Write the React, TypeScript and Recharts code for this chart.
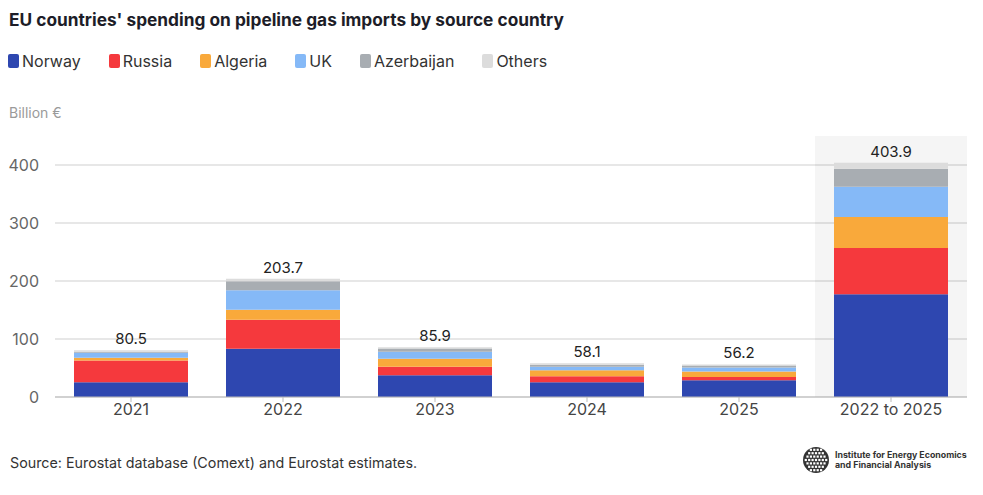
import { BarChart, Bar, XAxis, YAxis, CartesianGrid, ReferenceArea, LabelList } from 'recharts';

const categories = ['2021', '2022', '2023', '2024', '2025', '2022 to 2025'];
const norway = [25.5, 83.1, 37.5, 25.3, 28.7, 177];
const russia = [37.5, 49.9, 14.5, 10.4, 5.8, 80];
const algeria = [4.5, 17.4, 14, 10.5, 9.3, 53.5];
const uk = [9, 33.6, 12.2, 6, 7, 52];
const azerbaijan = [1.5, 15.7, 5.3, 3.5, 3.5, 31];
const others = [2.5, 4, 2.4, 2.4, 1.9, 10.4];
const totals = [80.5, 203.7, 85.9, 58.1, 56.2, 403.9];
const yTicks = [0, 100, 200, 300, 400];

const series = [
    { key: 'Norway', color: '#2e47b0', values: norway },
    { key: 'Russia', color: '#f5393d', values: russia },
    { key: 'Algeria', color: '#f9a93b', values: algeria },
    { key: 'UK', color: '#85b9f7', values: uk },
    { key: 'Azerbaijan', color: '#a8adb2', values: azerbaijan },
    { key: 'Others', color: '#dcdcdc', values: others },
];

const data = categories.map((name, i) => {
    const row: any = { name, total: totals[i] };
    series.forEach((s) => { row[s.key] = s.values[i]; });
    return row;
});

const font = 'Inter, "Noto Sans", sans-serif';

function Globe() {
    // rough sketch of the logo's dotted globe
    const dots: any[] = [];
    for (let r = -3; r <= 3; r++) {
        for (let c = -3; c <= 3; c++) {
            const dx = c * 3.4 + (r % 2 ? 1.7 : 0);
            const dy = r * 3.4;
            if (dx * dx + dy * dy < 150) {
                dots.push(<rect key={r + '_' + c} x={13 + dx - 1.1} y={13 + dy - 1.1} width={2.2} height={2.2} fill="#fff" />);
            }
        }
    }
    return (
        <svg width={26} height={26} style={{ position: 'absolute', left: 803, top: 447 }}>
            <circle cx={13} cy={13} r={13} fill="#333" />
            {dots}
        </svg>
    );
}

function App() {
    return (
        <div style={{ position: 'absolute', left: 0, top: 0, width: 983, height: 495, background: '#fff', fontFamily: font }}>
            <div style={{ position: 'absolute', left: 9, top: 9, fontSize: 17.3, fontWeight: 700, color: '#1d1d28' }}>
                EU countries' spending on pipeline gas imports by source country
            </div>
            <div style={{ position: 'absolute', left: 8, top: 51, display: 'flex', gap: 28, fontSize: 16, color: '#333' }}>
                {series.map((s) => (
                    <div key={s.key} style={{ display: 'flex', alignItems: 'center' }}>
                        <span style={{ display: 'inline-block', width: 11, height: 14, borderRadius: 2, background: s.color, marginRight: 3 }} />
                        <span>{s.key}</span>
                    </div>
                ))}
            </div>
            <div style={{ position: 'absolute', left: 9, top: 104, fontSize: 14, color: '#9a9a9a' }}>Billion €</div>

            <div style={{ position: 'absolute', left: 0, top: 0 }}>
                <BarChart width={983} height={440} data={data} margin={{ top: 136, right: 16, bottom: 13, left: 0 }} barCategoryGap="12.5%">
                    <ReferenceArea x1="2022 to 2025" x2="2022 to 2025" y1={0} y2={450} fill="#000" fillOpacity={0.04} stroke="none" />
                    <CartesianGrid vertical={false} stroke="#cfcfcf" horizontalValues={yTicks} />
                    <XAxis dataKey="name" tick={{ fontSize: 16, fill: '#444', fontFamily: font }} tickLine={{ stroke: '#bbb' }} axisLine={{ stroke: '#bbb' }} tickSize={5} height={30} />
                    <YAxis domain={[0, 450]} ticks={yTicks} width={55} axisLine={false} tickLine={false} tickMargin={10} tick={{ fontSize: 16, fill: '#666', fontFamily: font }} />
                    {series.map((s, i) => (
                        <Bar key={s.key} dataKey={s.key} stackId="a" fill={s.color} isAnimationActive={false}>
                            {i === series.length - 1 ? (
                                <LabelList dataKey="total" position="top" offset={6} style={{ fontSize: 15, fill: '#222', fontFamily: font }} />
                            ) : null}
                        </Bar>
                    ))}
                </BarChart>
            </div>

            <div style={{ position: 'absolute', left: 10, top: 454, fontSize: 14.3, color: '#333' }}>
                Source: Eurostat database (Comext) and Eurostat estimates.
            </div>
            <Globe />
            <div style={{ position: 'absolute', left: 835, top: 450, fontSize: 8.8, fontWeight: 700, color: '#333', lineHeight: '10px' }}>
                Institute for Energy Economics<br />and Financial Analysis
            </div>
        </div>
    );
}

export default App;
